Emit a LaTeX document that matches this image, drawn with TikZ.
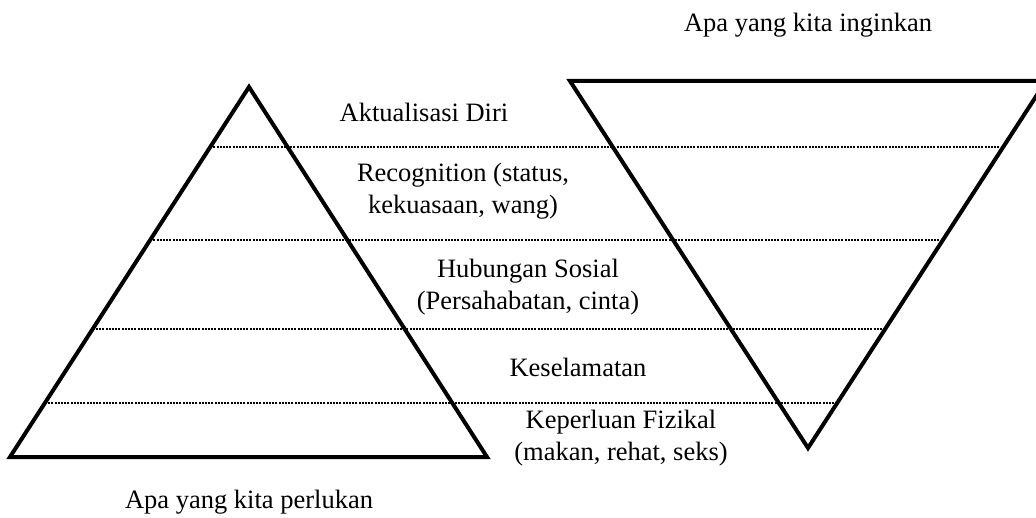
\documentclass[tikz,border=0pt]{standalone}
\usepackage{fontspec}
\setmainfont{Liberation Serif}
\usepackage{tikz}
\usetikzlibrary{positioning}

\tikzset{
  tri/.style={line width=4pt, line join=miter},
  level/.style={line width=2.2pt, dash pattern=on 2pt off 1.2pt},
  lbl/.style={inner sep=0pt, align=center,
              font=\fontsize{26.5}{32}\selectfont}
}

\begin{document}
\begin{tikzpicture}[x=1pt,y=-1pt]
\useasboundingbox (0,0) rectangle (1036,518);
\clip (0,0) rectangle (1036,518);

% kiri: piramid
\coordinate (pa) at (249,87);
\coordinate (pl) at (10,457);
\coordinate (pr) at (487,457);
% kanan: piramid terbalik
\coordinate (ql) at (570,81);
\coordinate (qr) at (1046,81);
\coordinate (qa) at (808,448);

\draw[tri] (pa) -- (pl) -- (pr) -- cycle;
\draw[tri] (ql) -- (qr) -- (qa) -- cycle;

% garis aras
\coordinate (a1) at (210.2,147);  \coordinate (b1) at (1003.2,147);
\coordinate (a2) at (150.2,240);  \coordinate (b2) at (942.9,240);
\coordinate (a3) at (92.7,329);   \coordinate (b3) at (885.2,329);
\coordinate (a4) at (44.9,403);   \coordinate (b4) at (837.2,403);
\draw[level] (a1) -- (b1);
\draw[level] (a2) -- (b2);
\draw[level] (a3) -- (b3);
\draw[level] (a4) -- (b4);

\node[lbl] (diri)   at (424,112) {Aktualisasi Diri};
\node[lbl] (recog)  at (463,191) {Recognition (status,\\kekuasaan, wang)};
\node[lbl] (sosial) at (528,287) {Hubungan Sosial\\(Persahabatan, cinta)};
\node[lbl] (selamat) at (578,367) {Keselamatan};
\node[lbl] (fizikal) at (621,438) {Keperluan Fizikal\\(makan, rehat, seks)};

\node[lbl] (perlu) at (249,502) {Apa yang kita perlukan};
\node[lbl] (ingin) at (808,25) {Apa yang kita inginkan};
\end{tikzpicture}
\end{document}
